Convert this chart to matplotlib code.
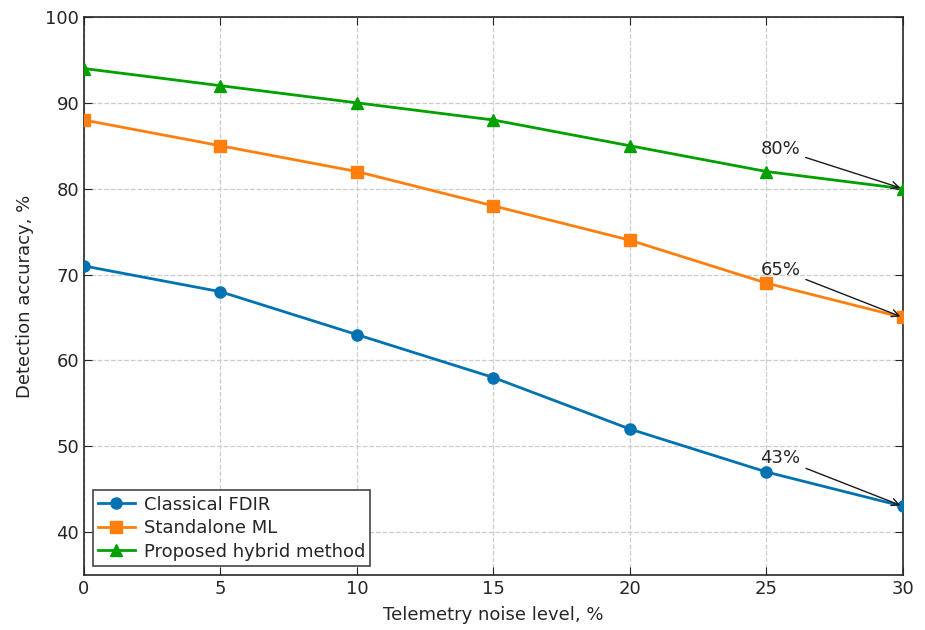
import matplotlib
matplotlib.use("Agg")
import matplotlib.pyplot as plt

noise = [0, 5, 10, 15, 20, 25, 30]
classical = [71, 68, 63, 58, 52, 47, 43]
standalone = [88, 85, 82, 78, 74, 69, 65]
hybrid = [94, 92, 90, 88, 85, 82, 80]
labels = ["Classical FDIR", "Standalone ML", "Proposed hybrid method"]
end_labels = ["43%", "65%", "80%"]
label_y = [48, 70, 84]

plt.rcParams['font.family'] = 'DejaVu Sans'
plt.rcParams['text.color'] = '#262626'
plt.rcParams['axes.labelcolor'] = '#262626'
plt.rcParams['xtick.color'] = '#262626'
plt.rcParams['ytick.color'] = '#262626'

fig = plt.figure(figsize=(9.25, 6.3), dpi=100)
ax = fig.add_axes([0.0908, 0.0873, 0.8854, 0.8857])

colors = ['#0072B2', '#FF7F0E', '#00A000']
markers = ['o', 's', '^']
series = [classical, standalone, hybrid]
for vals, lab, c, m in zip(series, labels, colors, markers):
    ax.plot(noise, vals, color=c, marker=m, lw=2, ms=8, label=lab, zorder=3)

# annotate the final values
for vals, txt, ty in zip(series, end_labels, label_y):
    ax.annotate(txt, xy=(noise[-1], vals[-1]), xytext=(24.78, ty),
                fontsize=13, ha='left', va='baseline',
                arrowprops=dict(arrowstyle='->', color='#1a1a1a', lw=1))

ax.set_xlim(0, 30)
ax.set_ylim(35, 100)
ax.set_xticks(noise)
ax.set_yticks([40, 50, 60, 70, 80, 90, 100])
ax.tick_params(direction='in', top=True, right=True, labelsize=13, length=6)
ax.grid(True, linestyle='--', color='#cccccc', lw=0.9)
ax.set_axisbelow(True)
for sp in ax.spines.values():
    sp.set_color('#262626')
    sp.set_linewidth(1.2)

ax.set_xlabel("Telemetry noise level, %", fontsize=13, labelpad=6)
ax.set_ylabel("Detection accuracy, %", fontsize=13, labelpad=8)

leg = ax.legend(loc='lower left', fontsize=13, fancybox=False, framealpha=1,
                edgecolor='#444444', borderaxespad=0.5, handlelength=2.0,
                labelspacing=0.3, borderpad=0.3, handletextpad=0.5)
leg.get_frame().set_linewidth(1.2)

fig.savefig("out.png", dpi=100)
